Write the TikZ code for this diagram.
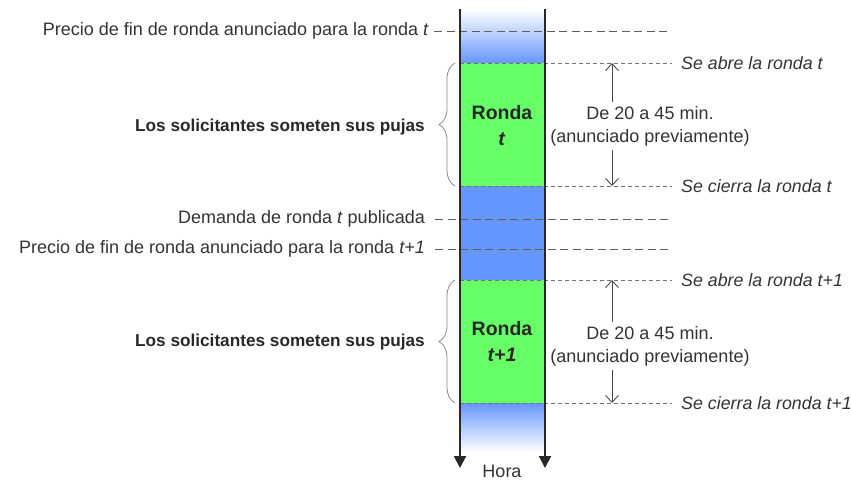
\documentclass[tikz,border=0pt]{standalone}
\usepackage{fontspec}
\setmainfont{Liberation Sans}
\usetikzlibrary{arrows.meta,decorations.pathreplacing}
\definecolor{grn}{RGB}{102,255,102}
\definecolor{blu}{RGB}{102,150,255}
\definecolor{ink}{RGB}{40,40,40}
\definecolor{txt}{RGB}{51,51,51}
\begin{document}
\begin{tikzpicture}[x=1pt,y=-1pt,
  lbl/.style={font=\fontsize{18}{23}\selectfont, text=txt, inner sep=0pt},
  blbl/.style={font=\fontsize{17.2}{22}\selectfont\bfseries, text=ink, inner sep=0pt},
  ilbl/.style={font=\fontsize{17.8}{22}\selectfont\itshape, text=txt, inner sep=0pt},
  rlbl/.style={font=\fontsize{19.5}{26}\selectfont\bfseries, text=ink, inner sep=0pt, align=center},
  longdash/.style={draw=ink!75, line width=0.9pt, dash pattern=on 8pt off 4.5pt},
  shortdash/.style={draw=ink!65, line width=0.8pt, dash pattern=on 4pt off 3pt},
  dimarr/.style={draw=ink!85, line width=0.9pt, -{Straight Barb[length=7pt,width=13pt]}},
  col/.style={draw=ink, line width=2pt, -{Triangle[length=12pt,width=12pt]}},
  brc/.style={draw=ink!55, line width=0.8pt, decorate, decoration={brace, amplitude=16pt}},
]
\useasboundingbox (0,0) rectangle (851,480);
% column fills
\shade[top color=white, bottom color=blu] (460,9) rectangle (545,63);
\fill[grn] (460,63) rectangle (545,186);
\fill[blu] (460,186) rectangle (545,280);
\fill[grn] (460,280) rectangle (545,403);
\shade[top color=blu, bottom color=white] (460,403) rectangle (545,452);
% coordinates on the column
\coordinate (c1) at (460,63);
\coordinate (c2) at (460,186);
\coordinate (c3) at (460,280);
\coordinate (c4) at (460,403);
\coordinate (e1) at (670,31);
\coordinate (e2) at (670,219);
\coordinate (e3) at (670,249);
% left labels
\node[lbl, anchor=east] (p1) at (429,31) {Precio de fin de ronda anunciado para la ronda \textit{t}};
\node[lbl, anchor=east] (dm) at (425,219) {Demanda de ronda \textit{t} publicada};
\node[lbl, anchor=east] (p2) at (425,249) {Precio de fin de ronda anunciado para la ronda \textit{t+1}};
\draw[longdash] ([xshift=5pt]p1.east) -- (e1);
\draw[longdash] ([xshift=10pt]dm.east) -- (e2);
\draw[longdash] ([xshift=10pt]p2.east) -- (e3);
% right labels
\node[ilbl, anchor=west] (o1) at (681,63) {Se abre la ronda t};
\node[ilbl, anchor=west] (k1) at (681,186) {Se cierra la ronda t};
\node[ilbl, anchor=west] (o2) at (681,280) {Se abre la ronda t+1};
\node[ilbl, anchor=west] (k2) at (681,403) {Se cierra la ronda t+1};
\draw[shortdash, shorten >=9pt] (c1) -- (o1.west);
\draw[shortdash, shorten >=9pt] (c2) -- (k1.west);
\draw[shortdash, shorten >=9pt] (c3) -- (o2.west);
\draw[shortdash, shorten >=9pt] (c4) -- (k2.west);
% column lines
\draw[col] (460,9) -- (460,468);
\draw[col] (545,9) -- (545,468);
\node[lbl] (h) at (502,471) {Hora};
% rounds
\node[rlbl] (r1) at (502,126) {Ronda\\\textit{t}};
\node[rlbl] (r2) at (502,342) {Ronda\\\textit{t+1}};
% braces
\node[blbl, anchor=east] (b1) at (425,127) {Los solicitantes someten sus pujas};
\node[blbl, anchor=east] (b2) at (425,342) {Los solicitantes someten sus pujas};
\draw[brc] (455,186) -- (455,63);
\draw[brc] (455,403) -- (455,280);
% durations
\coordinate (a1t) at (612,63);
\coordinate (a1b) at (612,186);
\coordinate (a2t) at (612,280);
\coordinate (a2b) at (612,403);
\node[lbl, align=center] (d1) at (650,126) {De 20 a 45 min.\\(anunciado previamente)};
\node[lbl, align=center] (d2) at (650,346) {De 20 a 45 min.\\(anunciado previamente)};
\draw[dimarr, shorten <=4pt] (d1.north -| a1t) -- (a1t);
\draw[dimarr, shorten <=4pt] (d1.south -| a1b) -- (a1b);
\draw[dimarr, shorten <=4pt] (d2.north -| a2t) -- (a2t);
\draw[dimarr, shorten <=4pt] (d2.south -| a2b) -- (a2b);
\end{tikzpicture}
\end{document}
